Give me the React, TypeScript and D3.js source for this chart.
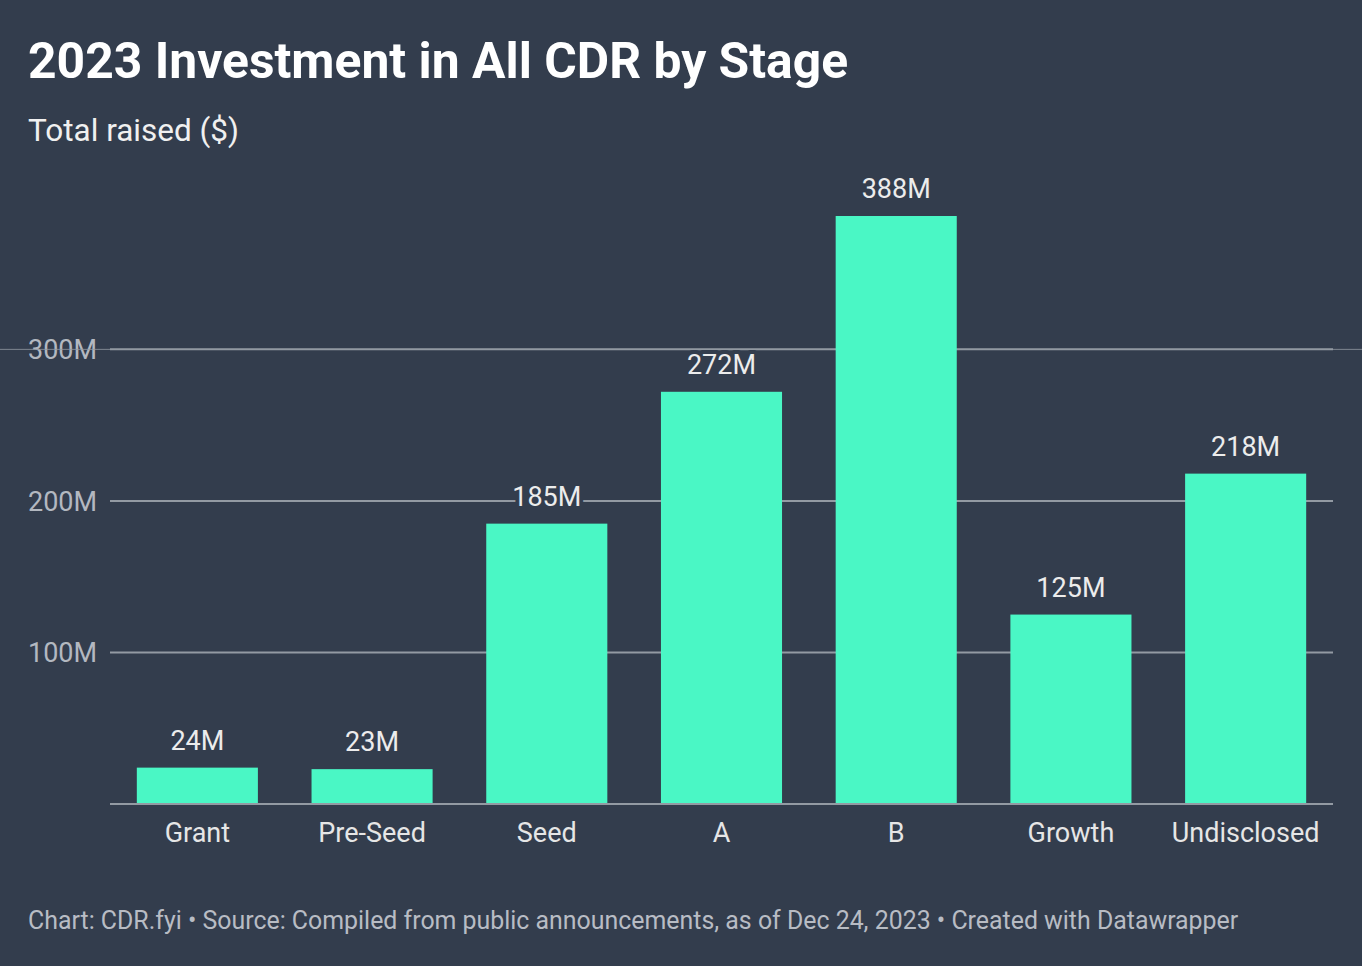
import { useEffect, useRef } from "react";
import * as d3 from "d3";

const STAGES = ["Grant", "Pre-Seed", "Seed", "A", "B", "Growth", "Undisclosed"];
const RAISED_M = [24, 23, 185, 272, 388, 125, 218];
const Y_TICKS = [100, 200, 300];

const W = 1362, H = 966;
const BG = "#333d4d";
const BAR = "#4af7c5";
const FONT = "Roboto, 'Noto Sans', sans-serif";

export default function App() {
  const svgRef = useRef<SVGSVGElement>(null);

  useEffect(() => {
    if (!svgRef.current) return;
    const svg = d3.select(svgRef.current);
    svg.selectAll("*").remove();

    const margin = { left: 110, right: 29, top: 216, bottom: 162 };
    const x = d3.scaleBand()
      .domain(STAGES)
      .range([margin.left, W - margin.right])
      .paddingInner(0.307)
      .paddingOuter(0.1535);
    const y = d3.scaleLinear().domain([0, 388]).range([H - margin.bottom, margin.top]);

    svg.append("rect").attr("width", W).attr("height", H).attr("fill", BG);

    // titles
    svg.append("text")
      .attr("x", 28).attr("y", 78)
      .attr("fill", "#ffffff").attr("font-size", 49.8).attr("font-weight", 700)
      .text("2023 Investment in All CDR by Stage");
    svg.append("text")
      .attr("x", 28).attr("y", 141)
      .attr("fill", "#f0f0f0").attr("font-size", 31.5)
      .text("Total raised ($)");

    // grid
    const grid = svg.append("g");
    grid.selectAll("line")
      .data(Y_TICKS)
      .join("line")
      .attr("x1", margin.left).attr("x2", W - margin.right)
      .attr("y1", (d) => y(d)).attr("y2", (d) => y(d))
      .attr("stroke", "#939aa3").attr("stroke-width", 2);
    // faint full-width line at the top tick
    svg.append("line")
      .attr("x1", 0).attr("x2", W)
      .attr("y1", y(300)).attr("y2", y(300))
      .attr("stroke", "#939aa3").attr("stroke-width", 1).attr("opacity", 0.8);

    grid.selectAll("text")
      .data(Y_TICKS)
      .join("text")
      .attr("x", 28).attr("y", (d) => y(d)).attr("dy", "0.36em")
      .attr("fill", "#b3b8c0").attr("font-size", 27)
      .text((d) => `${d}M`);

    // bars
    svg.append("g")
      .selectAll("rect")
      .data(RAISED_M)
      .join("rect")
      .attr("x", (_, i) => x(STAGES[i])!)
      .attr("width", x.bandwidth())
      .attr("y", (d) => y(d))
      .attr("height", (d) => y(0) - y(d))
      .attr("fill", BAR);

    // baseline
    svg.append("line")
      .attr("x1", margin.left).attr("x2", W - margin.right)
      .attr("y1", y(0)).attr("y2", y(0))
      .attr("stroke", "#939aa3").attr("stroke-width", 2);

    // value labels with halo
    svg.append("g")
      .selectAll("text")
      .data(RAISED_M)
      .join("text")
      .attr("x", (_, i) => x(STAGES[i])! + x.bandwidth() / 2)
      .attr("y", (d) => y(d) - 18)
      .attr("text-anchor", "middle")
      .attr("fill", "#ececec").attr("font-size", 27)
      .attr("stroke", BG).attr("stroke-width", 8).attr("paint-order", "stroke")
      .attr("stroke-linejoin", "round")
      .text((d) => `${d}M`);

    // category labels
    svg.append("g")
      .selectAll("text")
      .data(STAGES)
      .join("text")
      .attr("x", (d) => x(d)! + x.bandwidth() / 2)
      .attr("y", 842)
      .attr("text-anchor", "middle")
      .attr("fill", "#e6e6e6").attr("font-size", 27)
      .text((d) => d);

    // footer
    svg.append("text")
      .attr("x", 28).attr("y", 929)
      .attr("fill", "#b8bcc4").attr("font-size", 24.9)
      .text("Chart: CDR.fyi • Source: Compiled from public announcements, as of Dec 24, 2023 • Created with Datawrapper");
  }, []);

  return (
    <div style={{ position: "absolute", left: 0, top: 0 }}>
      <svg ref={svgRef} width={W} height={H} style={{ display: "block", fontFamily: FONT }} />
    </div>
  );
}
